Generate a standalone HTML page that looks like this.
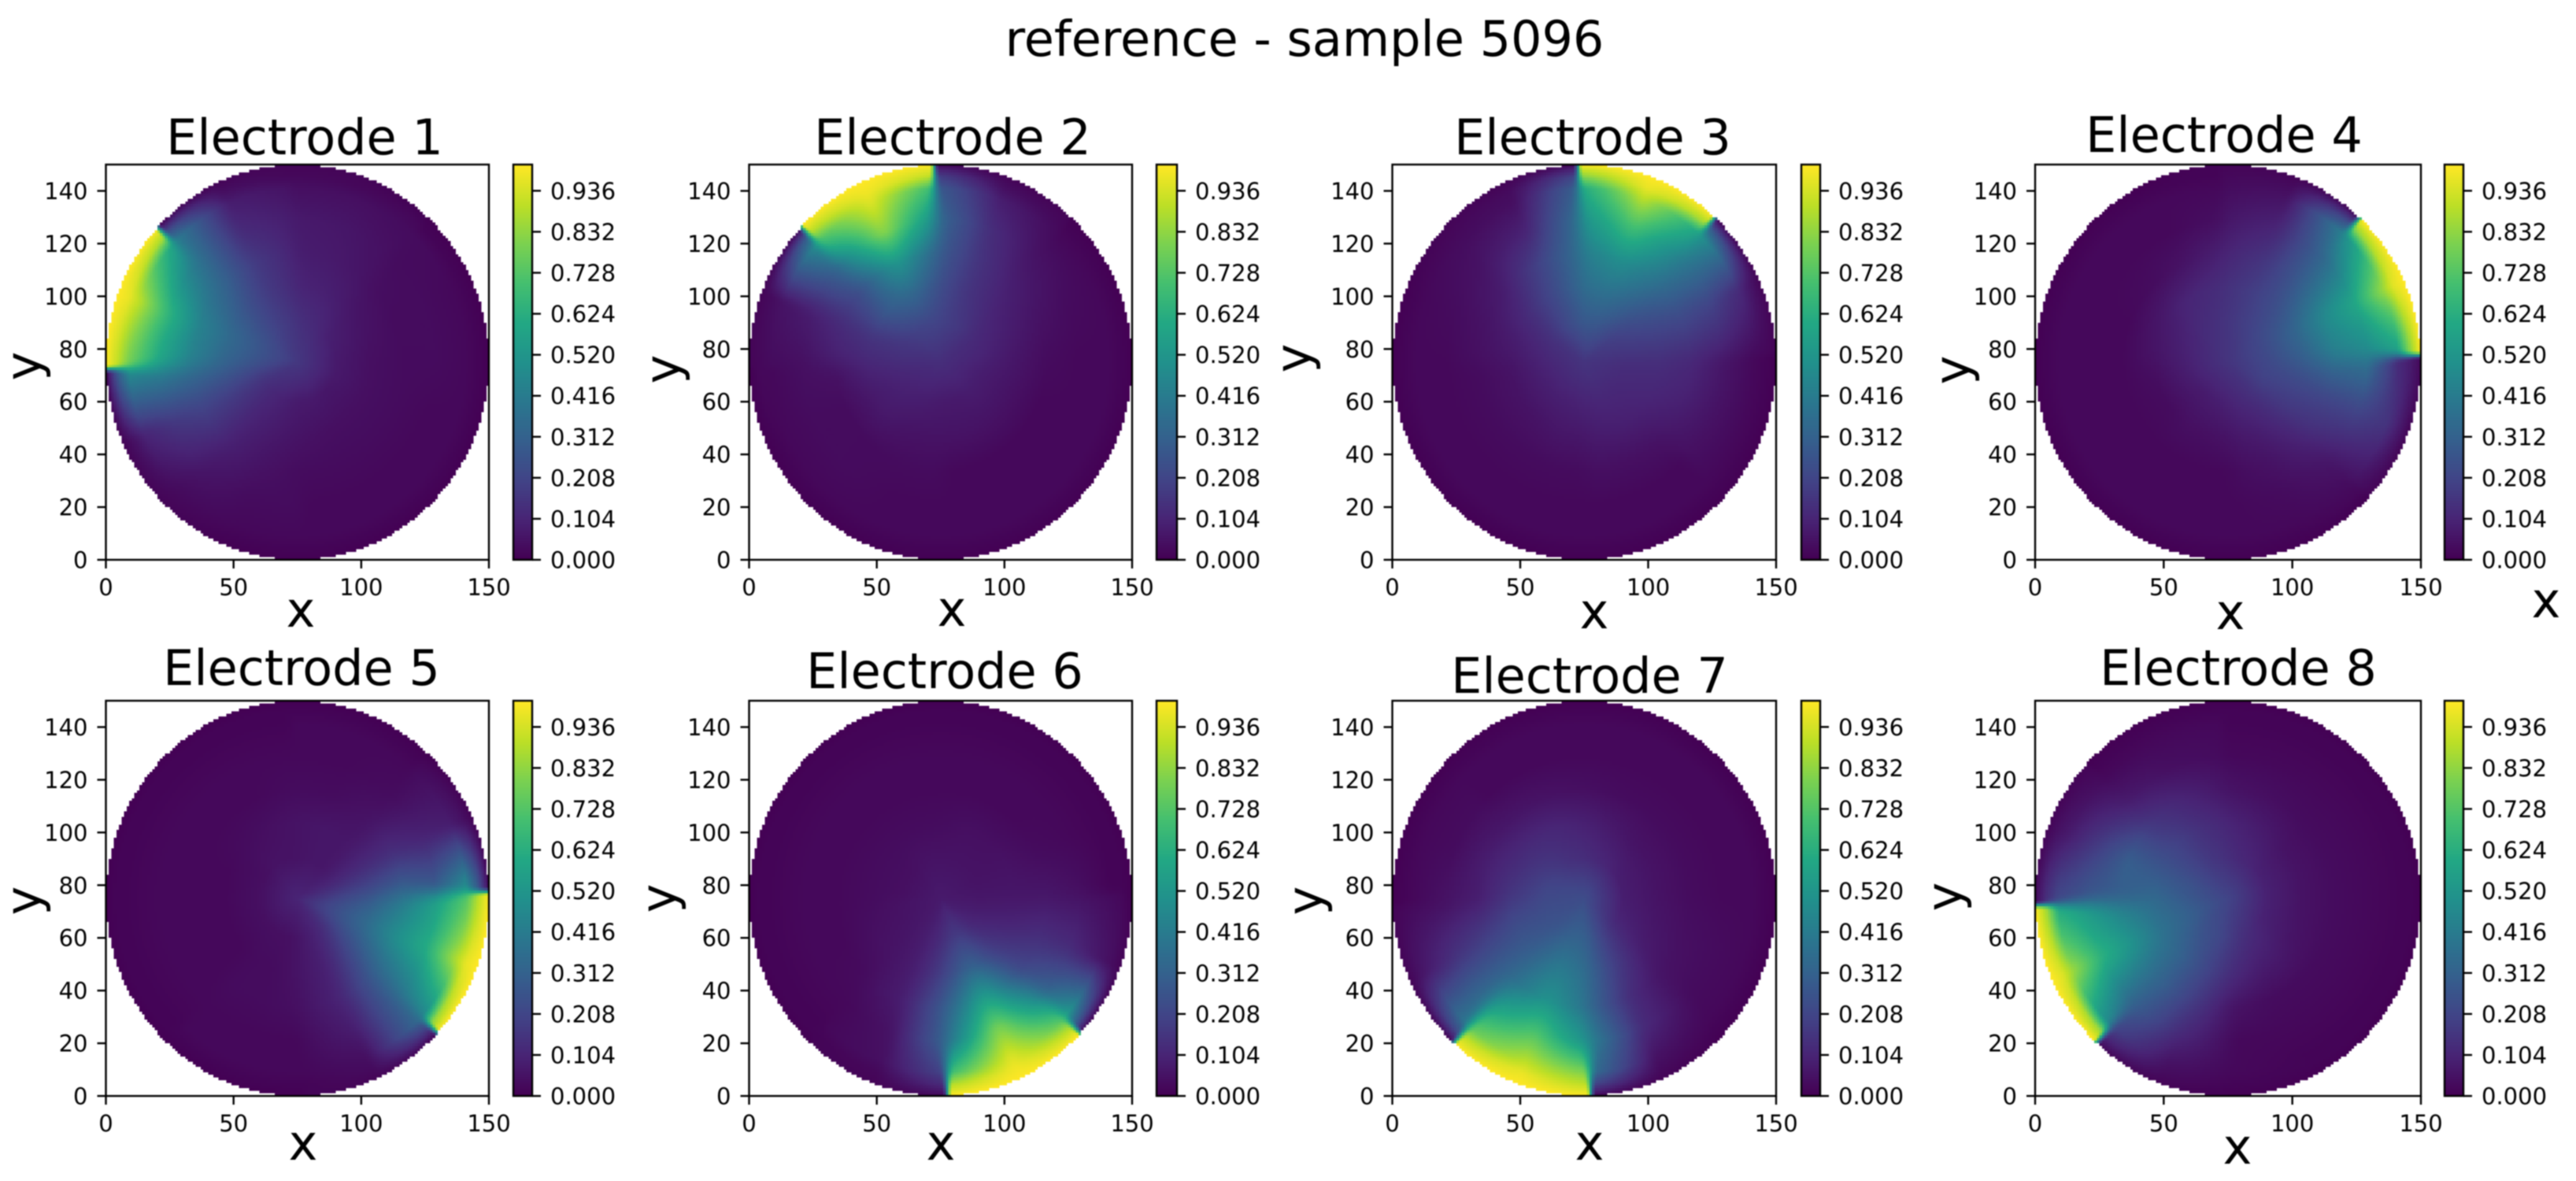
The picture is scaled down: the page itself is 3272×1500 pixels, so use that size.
<!DOCTYPE html>
<html lang="en">
<head>
<meta charset="utf-8">
<title>reference - sample 5096</title>
<style>
html,body{margin:0;padding:0;background:#fff;}
#figure{position:relative;width:3272px;height:1500px;overflow:hidden;background:#fff;filter:blur(0.8px);}
canvas{position:absolute;image-rendering:pixelated;display:block;}
svg{position:absolute;left:0;top:0;}
text{font-family:"DejaVu Sans","Liberation Sans",sans-serif;fill:#000;}
.big{font-size:62px;}
.tick{font-size:29px;}
</style>
</head>
<body>
<div id="figure">
<svg id="overlay" width="3272" height="1500" viewBox="0 0 3272 1500">
  <text class="big" x="1657" y="71" text-anchor="middle">reference - sample 5096</text>

  <text class="big" x="387" y="196" text-anchor="middle">Electrode 1</text>
  <text class="big" x="1210" y="196" text-anchor="middle">Electrode 2</text>
  <text class="big" x="2023" y="196" text-anchor="middle">Electrode 3</text>
  <text class="big" x="2825" y="193" text-anchor="middle">Electrode 4</text>
  <text class="big" x="383" y="870" text-anchor="middle">Electrode 5</text>
  <text class="big" x="1200" y="874" text-anchor="middle">Electrode 6</text>
  <text class="big" x="2019" y="880" text-anchor="middle">Electrode 7</text>
  <text class="big" x="2843" y="870" text-anchor="middle">Electrode 8</text>

  <text class="big" x="382" y="796" text-anchor="middle">x</text>
  <text class="big" x="1209" y="795" text-anchor="middle">x</text>
  <text class="big" x="2025" y="798" text-anchor="middle">x</text>
  <text class="big" x="2833" y="799" text-anchor="middle">x</text>
  <text class="big" x="3234" y="784" text-anchor="middle">x</text>
  <text class="big" x="385" y="1473" text-anchor="middle">x</text>
  <text class="big" x="1195" y="1473" text-anchor="middle">x</text>
  <text class="big" x="2019" y="1473" text-anchor="middle">x</text>
  <text class="big" x="2842" y="1478" text-anchor="middle">x</text>

  <text class="big" text-anchor="middle" transform="translate(51 465) rotate(-90)">y</text>
  <text class="big" text-anchor="middle" transform="translate(863 469) rotate(-90)">y</text>
  <text class="big" text-anchor="middle" transform="translate(1664 455) rotate(-90)">y</text>
  <text class="big" text-anchor="middle" transform="translate(2501 470) rotate(-90)">y</text>
  <text class="big" text-anchor="middle" transform="translate(51 1144) rotate(-90)">y</text>
  <text class="big" text-anchor="middle" transform="translate(858 1141) rotate(-90)">y</text>
  <text class="big" text-anchor="middle" transform="translate(1679 1144) rotate(-90)">y</text>
  <text class="big" text-anchor="middle" transform="translate(2491 1139) rotate(-90)">y</text>
</svg>
</div>
<script>
// Tick values
const xTickValues = [0, 50, 100, 150];
const yTickValues = [0, 20, 40, 60, 80, 100, 120, 140];
const colorbarTickValues = [0, 0.104, 0.208, 0.312, 0.416, 0.52, 0.624, 0.728, 0.832, 0.936];
const colorbarTickLabels = ["0.000", "0.104", "0.208", "0.312", "0.416", "0.520", "0.624", "0.728", "0.832", "0.936"];
const colorbarMax = 1.0025;

// Sampling positions of the readings, polar about the disc centre (data coordinates).
const angleSamples = [181, 159.5, 138, 136, 114.5, 93, 91, 69.5, 48, 46, 24.5, 3, 1, -20.5, -42, -44, -65.5, -87, -89, -110.5, -132, -134, -155.5, -177];
const radiusSamples = [1, 0.94, 0.88, 0.72, 0.55, 0.38, 0.2];

// Potential (percent of full scale); one row per radius, one column per angle.
const electrode1Values = [
 [100,100,100, 2,1,1, 1,1,0, 0,0,0, 0,0,0, 0,0,0, 0,0,1, 1,1,2],
 [90,97,86, 26,4,2, 2,2,2, 1,1,1, 1,1,1, 1,1,1, 1,1,2, 2,5,30],
 [78,90,58, 42,8,5, 4,4,3, 3,2,2, 2,2,2, 2,2,2, 2,2,3, 3,10,48],
 [58,66,40, 38,12,8, 7,6,4, 3,3,3, 3,2,2, 2,2,2, 3,3,6, 7,16,44],
 [43,45,34, 33,17,10, 8,7,5, 4,3,3, 3,3,3, 3,3,3, 3,5,9, 10,20,36],
 [32,35,27, 26,17,12, 10,9,7, 6,5,4, 4,4,4, 4,4,5, 5,7,10, 11,18,30],
 [25,26,23, 22,18,15, 14,12,10, 9,8,7, 7,7,6, 6,7,7, 7,9,11, 11,15,23]
];
const electrode2Values = [
 [1,1,2, 100,100,100, 2,1,1, 0,0,0, 0,0,0, 0,0,0, 0,0,0, 0,0,0],
 [2,3,30, 88,98,90, 18,4,2, 1,1,1, 1,1,1, 1,1,1, 1,1,1, 1,1,2],
 [3,5,48, 70,95,68, 28,8,3, 2,2,2, 2,2,2, 2,2,2, 2,2,2, 2,2,2],
 [4,8,34, 42,84,50, 33,13,5, 5,3,2, 2,2,2, 2,2,2, 2,2,3, 3,3,4],
 [8,12,25, 28,54,33, 28,15,8, 8,5,3, 3,2,2, 2,2,2, 3,3,3, 3,3,5],
 [11,15,28, 29,35,25, 23,15,11, 10,8,6, 6,5,5, 5,5,5, 5,5,6, 7,7,10],
 [13,15,18, 19,20,20, 19,17,14, 13,11,10, 9,8,8, 8,7,7, 7,8,9, 9,10,12]
];
const electrode3Values = [
 [0,0,1, 1,1,2, 100,100,100, 2,1,1, 0,0,0, 0,0,0, 0,0,0, 0,0,0],
 [1,1,2, 2,3,20, 82,97,85, 30,6,2, 1,1,1, 1,1,1, 1,1,1, 1,1,1],
 [2,2,3, 3,4,30, 60,90,58, 50,12,3, 2,2,2, 2,2,2, 2,2,2, 2,2,2],
 [2,3,5, 6,10,35, 50,70,45, 42,20,8, 6,5,4, 2,2,2, 2,2,2, 2,2,2],
 [4,5,8, 9,20,35, 42,50,38, 36,22,12, 11,9,6, 5,4,4, 3,3,3, 3,3,3],
 [6,8,13, 14,22,33, 36,38,30, 28,20,14, 13,11,9, 9,8,7, 6,6,5, 5,5,5],
 [10,12,15, 16,22,27, 28,27,22, 20,17,14, 13,12,11, 11,11,10, 10,9,9, 9,9,10]
];
const electrode4Values = [
 [0,0,0, 0,0,1, 1,1,2, 100,100,100, 2,1,1, 0,0,0, 0,0,0, 0,0,0],
 [1,1,1, 1,1,1, 2,3,25, 82,96,80, 8,8,3, 2,1,1, 1,1,1, 1,1,1],
 [2,2,2, 2,2,2, 3,5,42, 50,85,55, 12,15,5, 3,2,2, 2,2,2, 2,2,2],
 [2,2,2, 2,2,4, 6,10,32, 34,60,46, 38,20,7, 6,3,2, 2,2,2, 2,2,2],
 [2,2,3, 3,5,9, 10,15,28, 30,48,42, 36,20,12, 10,5,3, 2,2,2, 2,2,2],
 [5,6,8, 9,11,13, 14,18,24, 25,33,30, 28,20,15, 13,8,6, 5,4,4, 3,3,4],
 [9,10,11, 12,13,15, 15,18,20, 21,22,22, 21,20,16, 15,12,10, 9,8,7, 7,8,9]
];
const electrode5Values = [
 [0,0,0, 0,0,0, 0,0,0, 0,1,2, 100,100,100, 2,1,1, 0,0,0, 0,0,0],
 [1,1,1, 1,1,1, 1,1,1, 2,5,30, 88,97,82, 20,3,1, 1,1,1, 1,1,1],
 [1,1,1, 1,1,1, 2,2,2, 3,8,50, 72,88,45, 35,4,2, 2,2,2, 1,1,1],
 [2,2,2, 2,2,2, 2,2,3, 3,10,30, 55,62,38, 32,8,3, 2,2,2, 2,2,2],
 [2,2,2, 2,2,3, 3,3,5, 5,13,32, 40,50,32, 29,10,5, 4,3,3, 2,2,2],
 [2,2,3, 3,4,5, 5,6,6, 6,12,24, 28,36,24, 22,9,6, 5,3,3, 2,2,2],
 [4,4,4, 5,5,5, 5,6,6, 6,10,18, 20,24,16, 14,9,6, 5,4,4, 4,4,4]
];
const electrode6Values = [
 [0,0,0, 0,0,0, 0,0,0, 0,0,0, 0,1,2, 100,100,100, 2,1,1, 0,0,0],
 [1,1,1, 1,1,1, 1,1,1, 1,1,1, 2,4,32, 88,98,88, 12,2,1, 1,1,1],
 [1,1,1, 1,1,1, 1,1,1, 1,1,1, 3,6,55, 72,95,68, 20,4,2, 1,1,1],
 [2,2,2, 2,2,2, 2,2,2, 2,2,4, 5,12,34, 45,82,38, 30,5,2, 2,2,2],
 [2,2,2, 2,2,2, 2,2,2, 2,3,6, 6,13,22, 26,58,30, 27,8,4, 3,2,2],
 [3,3,3, 3,3,3, 3,4,4, 4,5,6, 6,10,17, 18,33,20, 18,8,5, 5,4,3],
 [4,4,4, 4,5,5, 5,5,5, 5,5,6, 6,8,11, 12,18,13, 12,8,6, 6,5,5]
];
const electrode7Values = [
 [0,0,0, 0,0,0, 0,0,0, 0,0,0, 0,0,0, 0,1,2, 100,100,100, 2,1,1],
 [1,1,1, 1,1,1, 1,1,1, 1,1,1, 1,1,1, 1,3,20, 90,97,90, 25,5,2],
 [2,2,2, 2,2,2, 2,2,2, 2,2,2, 2,2,2, 2,5,35, 80,90,75, 40,8,3],
 [5,3,3, 2,2,2, 2,2,2, 2,2,2, 2,3,3, 4,12,42, 50,72,55, 38,15,5],
 [8,8,6, 6,5,4, 4,3,3, 3,3,3, 3,4,5, 5,13,33, 38,52,36, 34,20,9],
 [16,13,12, 12,11,9, 9,7,5, 5,5,5, 5,6,8, 9,18,33, 36,42,32, 30,24,17],
 [22,20,17, 17,14,13, 13,11,10, 9,8,8, 8,9,12, 13,20,30, 31,31,27, 26,24,22]
];
const electrode8Values = [
 [2,1,1, 0,0,0, 0,0,0, 0,0,0, 0,0,0, 0,0,0, 0,1,2, 100,100,100],
 [14,5,2, 1,1,1, 1,1,1, 1,1,1, 1,1,1, 1,1,1, 1,3,12, 84,95,85],
 [22,8,3, 2,2,2, 1,1,1, 1,1,1, 1,1,1, 1,1,2, 2,5,20, 45,85,60],
 [28,18,8, 7,4,3, 2,2,2, 2,2,2, 2,2,2, 2,2,2, 3,12,30, 33,65,52],
 [30,30,16, 15,10,6, 5,4,3, 3,3,3, 3,3,3, 3,3,5, 6,18,33, 34,52,42],
 [34,27,20, 20,14,11, 10,8,6, 5,5,5, 5,5,6, 7,8,12, 13,22,32, 33,38,35],
 [27,25,20, 20,16,14, 13,11,10, 9,9,9, 9,9,10, 11,13,17, 18,23,25, 26,30,28]
];
const centreValues = [16, 13, 15, 15, 10, 7, 23, 20];
const allElectrodeValues = [electrode1Values, electrode2Values, electrode3Values, electrode4Values, electrode5Values, electrode6Values, electrode7Values, electrode8Values];

// Viridis anchor colours, evenly spaced over 0..1.
const viridisStops = ["#440154", "#482475", "#414487", "#355f8d", "#2a788e", "#21918c", "#22a884", "#44bf70", "#7ad151", "#bddf26", "#fde725"];

const viridisRgb = viridisStops.map(function (h) {
  return [parseInt(h.slice(1, 3), 16), parseInt(h.slice(3, 5), 16), parseInt(h.slice(5, 7), 16)];
});

function viridis(v) {
  const t = Math.max(0, Math.min(1, v)) * (viridisRgb.length - 1);
  const i = Math.min(viridisRgb.length - 2, Math.floor(t));
  const f = t - i;
  return [0, 1, 2].map(function (c) {
    return viridisRgb[i][c] + (viridisRgb[i + 1][c] - viridisRgb[i][c]) * f;
  });
}

// Panel geometry in page pixels: columns and rows of the 4x2 grid.
const columnBoxes = [
  { left: 134.5, right: 621, barLeft: 652, barRight: 676 },
  { left: 951.5, right: 1438, barLeft: 1469, barRight: 1495 },
  { left: 1768.5, right: 2256, barLeft: 2288, barRight: 2312 },
  { left: 2585, right: 3075, barLeft: 3105, barRight: 3129 }
];
const rowBoxes = [
  { top: 209, bottom: 711 },
  { top: 890, bottom: 1392 }
];

const DATA_MAX = 150;
const GRID = 150;
const CENTER = 75;
const SMOOTH_DEGREES = 16;
const SMOOTH_STEPS = [-1, -0.66, -0.33, 0, 0.33, 0.66, 1];
const SMOOTH_WEIGHTS = [1, 2, 3, 4, 3, 2, 1];

// Clockwise angular coordinate of each sample column, starting from the first column.
const angleCoords = angleSamples.map(function (a) { return angleSamples[0] - a; });

function sampleField(rows, centre, radius, theta) {
  let t = (angleSamples[0] - theta) % 360;
  if (t < 0) t += 360;
  const n = angleCoords.length;
  let a = n - 1;
  for (let k = 0; k < n - 1; k++) {
    if (t >= angleCoords[k] && t < angleCoords[k + 1]) { a = k; break; }
  }
  const b = (a + 1) % n;
  const start = angleCoords[a];
  const end = b === 0 ? 360 : angleCoords[b];
  const fa = (t - start) / (end - start);
  function ringValue(r) {
    return rows[r][a] * (1 - fa) + rows[r][b] * fa;
  }
  const last = radiusSamples.length - 1;
  if (radius >= radiusSamples[0]) return ringValue(0);
  if (radius <= radiusSamples[last]) {
    const f = radius / radiusSamples[last];
    return centre * (1 - f) + ringValue(last) * f;
  }
  for (let r = 0; r < last; r++) {
    if (radius <= radiusSamples[r] && radius >= radiusSamples[r + 1]) {
      const f = (radiusSamples[r] - radius) / (radiusSamples[r] - radiusSamples[r + 1]);
      return ringValue(r) * (1 - f) + ringValue(r + 1) * f;
    }
  }
  return centre;
}

// The sharp electrode edges only hold at the rim; they soften toward the centre.
function smoothedField(rows, centre, x, y) {
  const dx = x - CENTER;
  const dy = y - CENTER;
  const radius = Math.sqrt(dx * dx + dy * dy) / CENTER;
  const theta = Math.atan2(dy, dx) * 180 / Math.PI;
  const width = SMOOTH_DEGREES * Math.max(0, 1 - radius);
  let sum = 0;
  let total = 0;
  for (let k = 0; k < SMOOTH_STEPS.length; k++) {
    sum += SMOOTH_WEIGHTS[k] * sampleField(rows, centre, radius, theta + SMOOTH_STEPS[k] * width);
    total += SMOOTH_WEIGHTS[k];
  }
  return sum / total;
}

const figure = document.getElementById("figure");
const overlay = document.getElementById("overlay");
const SVG_NS = "http://www.w3.org/2000/svg";

function svgLine(x1, y1, x2, y2) {
  const el = document.createElementNS(SVG_NS, "line");
  el.setAttribute("x1", x1);
  el.setAttribute("y1", y1);
  el.setAttribute("x2", x2);
  el.setAttribute("y2", y2);
  el.setAttribute("stroke", "#000");
  el.setAttribute("stroke-width", "2.4");
  return el;
}

function svgLabel(x, y, anchor, content) {
  const el = document.createElementNS(SVG_NS, "text");
  el.setAttribute("class", "tick");
  el.setAttribute("x", x);
  el.setAttribute("y", y);
  el.setAttribute("text-anchor", anchor);
  el.textContent = content;
  return el;
}

function svgFrame(x, y, w, h) {
  const el = document.createElementNS(SVG_NS, "rect");
  el.setAttribute("x", x);
  el.setAttribute("y", y);
  el.setAttribute("width", w);
  el.setAttribute("height", h);
  el.setAttribute("fill", "none");
  el.setAttribute("stroke", "#000");
  el.setAttribute("stroke-width", "2.4");
  return el;
}

function placeCanvas(canvas, left, top, width, height) {
  canvas.style.left = left + "px";
  canvas.style.top = top + "px";
  canvas.style.width = width + "px";
  canvas.style.height = height + "px";
}

function drawHeatmap(canvas, rows, centre) {
  canvas.width = GRID;
  canvas.height = GRID;
  const ctx = canvas.getContext("2d");
  const image = ctx.createImageData(GRID, GRID);
  for (let j = 0; j < GRID; j++) {
    for (let i = 0; i < GRID; i++) {
      const x = i + 0.5;
      const y = GRID - j - 0.5;
      const dx = x - CENTER;
      const dy = y - CENTER;
      if (dx * dx + dy * dy > CENTER * CENTER) continue;
      const rgb = viridis(smoothedField(rows, centre, x, y) / 100);
      const p = (j * GRID + i) * 4;
      image.data[p] = rgb[0];
      image.data[p + 1] = rgb[1];
      image.data[p + 2] = rgb[2];
      image.data[p + 3] = 255;
    }
  }
  ctx.putImageData(image, 0, 0);
}

function drawColorbar(canvas) {
  canvas.width = 1;
  canvas.height = 256;
  const ctx = canvas.getContext("2d");
  for (let j = 0; j < 256; j++) {
    const rgb = viridis(((255 - j) / 255) * colorbarMax);
    ctx.fillStyle = "rgb(" + rgb.map(Math.round).join(",") + ")";
    ctx.fillRect(0, j, 1, 1);
  }
}

allElectrodeValues.forEach(function (rows, index) {
  const col = columnBoxes[index % 4];
  const row = rowBoxes[index < 4 ? 0 : 1];
  const n = index + 1;
  const axWidth = col.right - col.left;
  const axHeight = row.bottom - row.top;
  const xScale = function (v) { return col.left + (v / DATA_MAX) * axWidth; };
  const yScale = function (v) { return row.bottom - (v / DATA_MAX) * axHeight; };
  const barScale = function (v) { return row.bottom - (v / colorbarMax) * axHeight; };

  const heat = document.createElement("canvas");
  
  
  placeCanvas(heat, col.left, row.top, axWidth, axHeight);
  drawHeatmap(heat, rows, centreValues[index]);
  figure.insertBefore(heat, overlay);

  const bar = document.createElement("canvas");
  
  
  placeCanvas(bar, col.barLeft, row.top, col.barRight - col.barLeft, axHeight);
  bar.style.imageRendering = "auto";
  drawColorbar(bar);
  figure.insertBefore(bar, overlay);

  const frame = svgFrame(col.left, row.top, axWidth, axHeight);
  
  
  overlay.appendChild(frame);

  const barFrame = svgFrame(col.barLeft, row.top, col.barRight - col.barLeft, axHeight);
  
  
  overlay.appendChild(barFrame);

  xTickValues.forEach(function (v) {
    const px = xScale(v);
    const tick = svgLine(px, row.bottom, px, row.bottom + 11);
    
    
    overlay.appendChild(tick);
    const label = svgLabel(px, row.bottom + 45, "middle", String(v));
    
    
    overlay.appendChild(label);
  });

  yTickValues.forEach(function (v) {
    const py = yScale(v);
    const tick = svgLine(col.left - 11, py, col.left, py);
    
    
    overlay.appendChild(tick);
    const label = svgLabel(col.left - 23, py + 10.5, "end", String(v));
    
    
    overlay.appendChild(label);
  });

  colorbarTickValues.forEach(function (v, k) {
    const py = barScale(v);
    const tick = svgLine(col.barRight, py, col.barRight + 11, py);
    
    
    overlay.appendChild(tick);
    const label = svgLabel(col.barRight + 23, py + 10.5, "start", colorbarTickLabels[k]);
    
    
    overlay.appendChild(label);
  });
});
</script>
</body>
</html>
